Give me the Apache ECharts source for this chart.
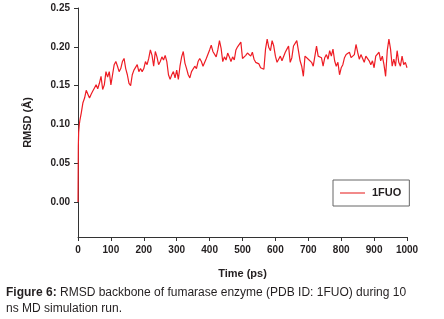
<!DOCTYPE html>
<html>
<head>
<meta charset="utf-8">
<script src="https://cdn.jsdelivr.net/npm/echarts@6/dist/echarts.min.js"></script>
<style>
    html, body { margin: 0; padding: 0; background: #fff; }
    #chart { width: 444px; height: 319px; }
</style>
</head>
<body>
<div id="chart"></div>
<script>
    // time (ps) and backbone RMSD (A)
    const timePs = [
        0, 1, 2, 4, 6, 10, 15, 20, 25, 30, 35, 40, 45, 50, 55, 60, 65, 70, 75, 80,
        85, 90, 95, 100, 105, 110, 115, 120, 125, 130, 135, 140, 145, 150, 155, 160, 165, 170, 175, 180,
        185, 190, 195, 200, 205, 210, 215, 220, 225, 230, 235, 240, 245, 250, 255, 260, 265, 270, 275, 280,
        285, 290, 295, 300, 305, 310, 315, 320, 325, 330, 335, 340, 345, 350, 355, 360, 365, 370, 375, 380,
        385, 390, 395, 400, 405, 410, 415, 420, 425, 430, 435, 440, 445, 450, 455, 460, 465, 470, 475, 480,
        485, 490, 495, 500, 505, 510, 515, 520, 525, 530, 535, 540, 545, 550, 555, 560, 565, 570, 575, 580,
        585, 590, 595, 600, 605, 610, 615, 620, 625, 630, 635, 640, 645, 650, 655, 660, 665, 670, 675, 680,
        685, 690, 695, 700, 705, 710, 715, 720, 725, 730, 735, 740, 745, 750, 755, 760, 765, 770, 775, 780,
        785, 790, 795, 800, 805, 810, 815, 820, 825, 830, 835, 840, 845, 850, 855, 860, 865, 870, 875, 880,
        885, 890, 895, 900, 905, 910, 915, 920, 925, 930, 935, 940, 945, 950, 955, 960, 965, 970, 975, 980,
        985, 990, 995, 1000
    ]
    const rmsd1FUO = [
        0.000, 0.072, 0.090, 0.100, 0.106, 0.115, 0.128, 0.134, 0.144, 0.139, 0.134, 0.139, 0.143, 0.147, 0.151, 0.146, 0.153, 0.162, 0.145, 0.151,
        0.168, 0.161, 0.168, 0.151, 0.164, 0.177, 0.181, 0.175, 0.168, 0.172, 0.181, 0.185, 0.172, 0.164, 0.153, 0.150, 0.164, 0.170, 0.168, 0.177,
        0.168, 0.172, 0.168, 0.172, 0.181, 0.177, 0.185, 0.196, 0.189, 0.175, 0.194, 0.187, 0.177, 0.181, 0.187, 0.183, 0.189, 0.181, 0.164, 0.158,
        0.164, 0.168, 0.160, 0.170, 0.158, 0.175, 0.187, 0.194, 0.179, 0.172, 0.164, 0.160, 0.168, 0.170, 0.175, 0.172, 0.181, 0.185, 0.181, 0.175,
        0.177, 0.185, 0.183, 0.196, 0.202, 0.194, 0.196, 0.187, 0.196, 0.208, 0.198, 0.181, 0.187, 0.183, 0.192, 0.187, 0.181, 0.187, 0.183, 0.196,
        0.200, 0.198, 0.206, 0.185, 0.187, 0.189, 0.192, 0.193, 0.188, 0.193, 0.184, 0.180, 0.182, 0.178, 0.173, 0.175, 0.171, 0.197, 0.210, 0.199,
        0.195, 0.208, 0.201, 0.188, 0.180, 0.184, 0.188, 0.182, 0.184, 0.193, 0.197, 0.201, 0.180, 0.186, 0.201, 0.203, 0.208, 0.195, 0.182, 0.175,
        0.162, 0.188, 0.190, 0.184, 0.186, 0.180, 0.175, 0.177, 0.201, 0.188, 0.190, 0.186, 0.175, 0.186, 0.190, 0.184, 0.195, 0.188, 0.197, 0.182,
        0.175, 0.180, 0.164, 0.173, 0.177, 0.186, 0.190, 0.188, 0.193, 0.186, 0.188, 0.190, 0.203, 0.193, 0.184, 0.190, 0.188, 0.180, 0.188, 0.186,
        0.182, 0.177, 0.182, 0.173, 0.188, 0.188, 0.193, 0.182, 0.188, 0.177, 0.162, 0.195, 0.210, 0.197, 0.175, 0.184, 0.175, 0.195, 0.180, 0.175,
        0.188, 0.177, 0.180, 0.173
    ]
    const yTicks = [0, 0.05, 0.10, 0.15, 0.20, 0.25]

    const chart = echarts.init(document.getElementById('chart'), null, { renderer: 'canvas' })

    const axisFont = {
        fontFamily: 'Arial, "Liberation Sans", sans-serif',
        fontWeight: 'bold',
        fontSize: 10,
        color: '#231f20'
    }

    chart.setOption({
        animation: false,
        title: {
            text: '{b|Figure 6:} RMSD backbone of fumarase enzyme (PDB ID: 1FUO) during 10\nns MD simulation run.',
            left: 6,
            top: 285,
            padding: 0,
            textStyle: {
                fontFamily: 'Arial, "Liberation Sans", sans-serif',
                fontSize: 12,
                fontWeight: 'normal',
                color: '#231f20',
                lineHeight: 16,
                rich: {
                    b: {
                        fontFamily: 'Arial, "Liberation Sans", sans-serif',
                        fontSize: 12,
                        fontWeight: 'bold',
                        color: '#231f20',
                        lineHeight: 16
                    }
                }
            }
        },
        legend: {
            data: [{ name: '1FUO', icon: 'rect', itemStyle: { color: '#f28a8a' } }],
            left: 333,
            top: 180,
            orient: 'vertical',
            padding: [7, 8, 7, 7],
            itemWidth: 25,
            itemHeight: 2,
            itemGap: 0,
            borderColor: '#666',
            borderWidth: 1,
            textStyle: Object.assign({}, axisFont, { fontSize: 11, lineHeight: 12, padding: [0, 0, 0, 2] })
        },
        grid: {
            left: 78,
            right: 37,
            top: 8,
            bottom: 82,
            containLabel: false
        },
        xAxis: {
            type: 'value',
            min: 0,
            max: 1000,
            interval: 100,
            name: 'Time (ps)',
            nameLocation: 'middle',
            nameGap: 31,
            nameTextStyle: Object.assign({}, axisFont, { fontSize: 11 }),
            axisLine: { onZero: false, lineStyle: { color: '#333', width: 1 } },
            axisTick: { show: true, inside: false, length: 4, lineStyle: { color: '#333' } },
            axisLabel: Object.assign({
                margin: 8,
                formatter: function (v) { return String(v) }
            }, axisFont),
            splitLine: { show: false }
        },
        yAxis: {
            type: 'value',
            min: -0.045,
            max: 0.25,
            name: 'RMSD (Å)',
            nameLocation: 'middle',
            nameGap: 45,
            nameRotate: 90,
            nameTextStyle: Object.assign({}, axisFont, { fontSize: 11 }),
            axisLine: { show: true, onZero: false, lineStyle: { color: '#333', width: 1 } },
            axisTick: { show: true, inside: false, length: 4, customValues: yTicks, lineStyle: { color: '#333' } },
            axisLabel: Object.assign({
                margin: 8,
                customValues: yTicks,
                formatter: function (v) { return v.toFixed(2) }
            }, axisFont),
            splitLine: { show: false }
        },
        series: [
            {
                name: '1FUO',
                type: 'line',
                symbol: 'none',
                data: timePs.map((t, i) => [t, rmsd1FUO[i]]),
                lineStyle: { color: '#ee1c24', width: 1.2 },
                itemStyle: { color: '#ee1c24' }
            }
        ]
    })
</script>
</body>
</html>
